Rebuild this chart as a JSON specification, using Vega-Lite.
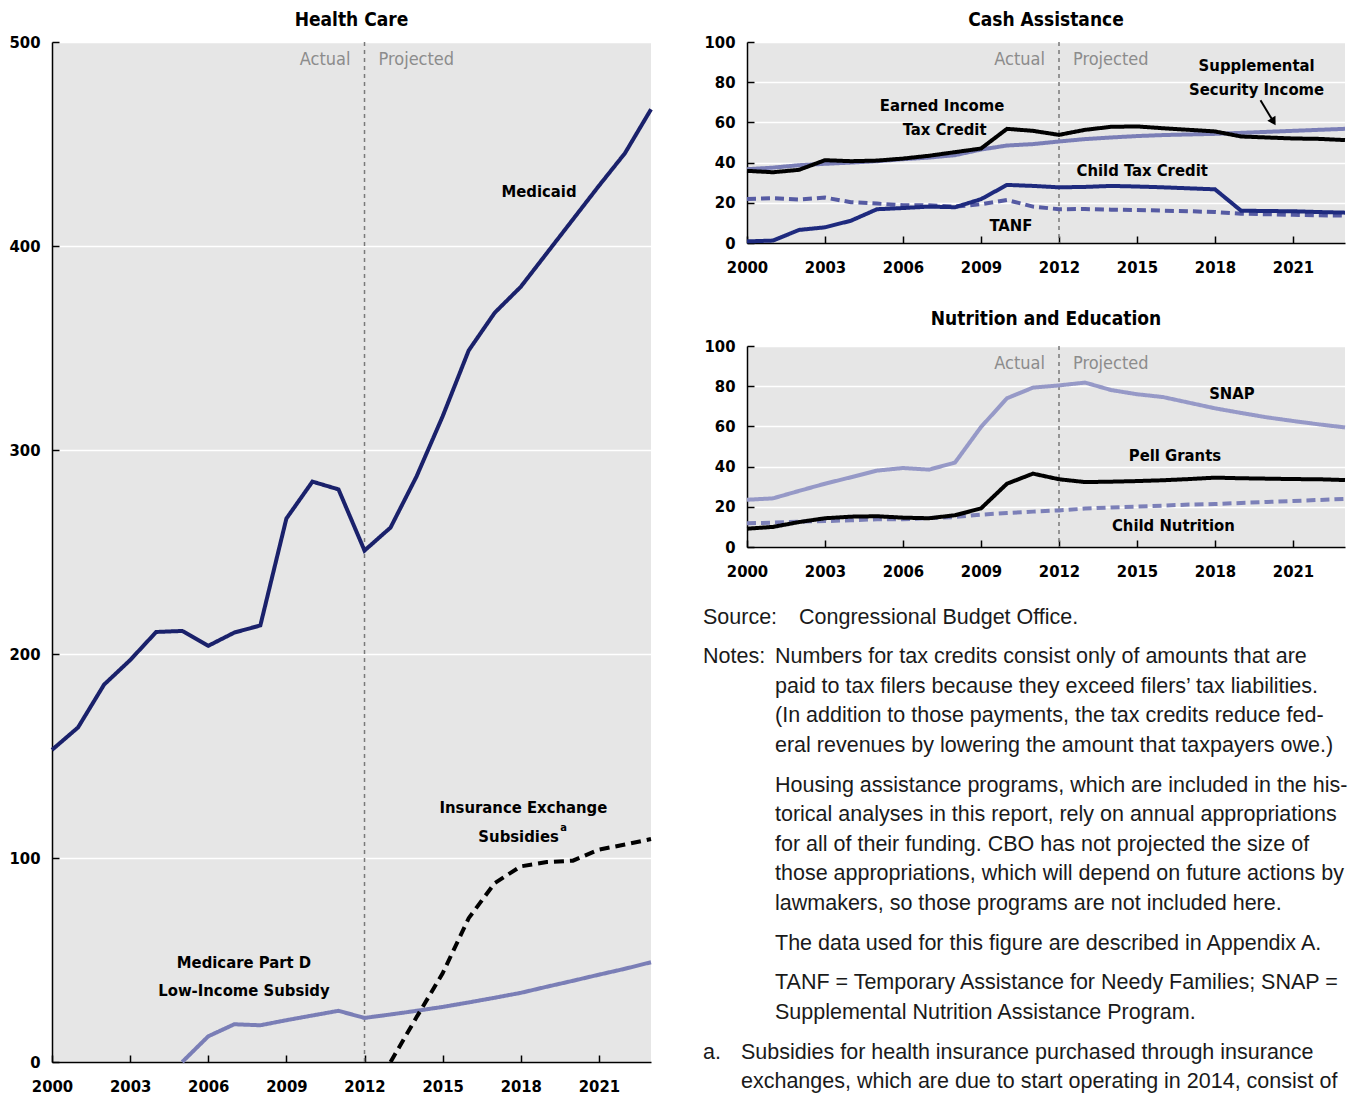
{
  "$schema": "https://vega.github.io/schema/vega-lite/v6.json",
  "background": "white",
  "padding": {"left": 9, "top": 11, "right": 0, "bottom": 0},
  "spacing": 44,
  "resolve": {"scale": {"color": "independent", "strokeDash": "independent"}},
  "config": {
    "view": {"fill": "#e6e6e6", "stroke": null},
    "font": "DejaVu Sans Condensed, Roboto, sans-serif",
    "axis": {
      "labelFont": "DejaVu Sans Condensed, Roboto, sans-serif", "labelFontWeight": "bold", "labelFontSize": 16.5, "labelColor": "#000000",
      "domainColor": "#000000", "domainWidth": 1.5, "tickColor": "#000000", "tickWidth": 1.5, "tickSize": -7,
      "title": null, "gridColor": "#ffffff", "gridWidth": 1.5, "labelFlush": false
    },
    "axisX": {"labelPadding": 23},
    "axisY": {"labelPadding": 19},
    "title": {"font": "DejaVu Sans Condensed, Roboto, sans-serif", "fontWeight": "bold", "fontSize": 19, "color": "#000000", "offset": 4},
    "text": {"font": "DejaVu Sans Condensed, Roboto, sans-serif", "fontWeight": "bold", "fontSize": 16.5, "color": "#000000", "baseline": "middle"}
  },
  "datasets": {
    "health": [
      {"year": 2000, "series": "Medicaid", "value": 153}, {"year": 2001, "series": "Medicaid", "value": 164}, {"year": 2002, "series": "Medicaid", "value": 185}, {"year": 2003, "series": "Medicaid", "value": 197}, {"year": 2004, "series": "Medicaid", "value": 210.8}, {"year": 2005, "series": "Medicaid", "value": 211.3}, {"year": 2006, "series": "Medicaid", "value": 204}, {"year": 2007, "series": "Medicaid", "value": 210.5}, {"year": 2008, "series": "Medicaid", "value": 214}, {"year": 2009, "series": "Medicaid", "value": 266.4}, {"year": 2010, "series": "Medicaid", "value": 284.5}, {"year": 2011, "series": "Medicaid", "value": 280.7}, {"year": 2012, "series": "Medicaid", "value": 250.7}, {"year": 2013, "series": "Medicaid", "value": 262}, {"year": 2014, "series": "Medicaid", "value": 287.1}, {"year": 2015, "series": "Medicaid", "value": 316.5}, {"year": 2016, "series": "Medicaid", "value": 348.8}, {"year": 2017, "series": "Medicaid", "value": 367.3}, {"year": 2018, "series": "Medicaid", "value": 380}, {"year": 2019, "series": "Medicaid", "value": 396.5}, {"year": 2020, "series": "Medicaid", "value": 413}, {"year": 2021, "series": "Medicaid", "value": 429.5}, {"year": 2022, "series": "Medicaid", "value": 445.5}, {"year": 2023, "series": "Medicaid", "value": 467},
      {"year": 2005, "series": "Medicare Part D", "value": 0}, {"year": 2006, "series": "Medicare Part D", "value": 12.6}, {"year": 2007, "series": "Medicare Part D", "value": 18.5}, {"year": 2008, "series": "Medicare Part D", "value": 18}, {"year": 2009, "series": "Medicare Part D", "value": 20.5}, {"year": 2010, "series": "Medicare Part D", "value": 22.8}, {"year": 2011, "series": "Medicare Part D", "value": 25.1}, {"year": 2012, "series": "Medicare Part D", "value": 21.6}, {"year": 2013, "series": "Medicare Part D", "value": 23.3}, {"year": 2014, "series": "Medicare Part D", "value": 25.1}, {"year": 2015, "series": "Medicare Part D", "value": 27}, {"year": 2016, "series": "Medicare Part D", "value": 29.2}, {"year": 2017, "series": "Medicare Part D", "value": 31.5}, {"year": 2018, "series": "Medicare Part D", "value": 33.9}, {"year": 2019, "series": "Medicare Part D", "value": 36.9}, {"year": 2020, "series": "Medicare Part D", "value": 39.8}, {"year": 2021, "series": "Medicare Part D", "value": 42.8}, {"year": 2022, "series": "Medicare Part D", "value": 45.7}, {"year": 2023, "series": "Medicare Part D", "value": 48.9},
      {"year": 2013, "series": "Insurance Exchange", "value": 0}, {"year": 2014, "series": "Insurance Exchange", "value": 22}, {"year": 2015, "series": "Insurance Exchange", "value": 43.5}, {"year": 2016, "series": "Insurance Exchange", "value": 70.5}, {"year": 2017, "series": "Insurance Exchange", "value": 87.7}, {"year": 2018, "series": "Insurance Exchange", "value": 95.9}, {"year": 2019, "series": "Insurance Exchange", "value": 98}, {"year": 2020, "series": "Insurance Exchange", "value": 98.7}, {"year": 2021, "series": "Insurance Exchange", "value": 104.1}, {"year": 2022, "series": "Insurance Exchange", "value": 106.6}, {"year": 2023, "series": "Insurance Exchange", "value": 109.3}
    ],
    "cash": [
      {"year": 2000, "series": "SSI", "value": 36.7}, {"year": 2001, "series": "SSI", "value": 37.5}, {"year": 2002, "series": "SSI", "value": 38.7}, {"year": 2003, "series": "SSI", "value": 39.4}, {"year": 2004, "series": "SSI", "value": 40}, {"year": 2005, "series": "SSI", "value": 40.7}, {"year": 2006, "series": "SSI", "value": 41.7}, {"year": 2007, "series": "SSI", "value": 42.5}, {"year": 2008, "series": "SSI", "value": 43.7}, {"year": 2009, "series": "SSI", "value": 46.5}, {"year": 2010, "series": "SSI", "value": 48.5}, {"year": 2011, "series": "SSI", "value": 49.2}, {"year": 2012, "series": "SSI", "value": 50.5}, {"year": 2013, "series": "SSI", "value": 51.7}, {"year": 2014, "series": "SSI", "value": 52.5}, {"year": 2015, "series": "SSI", "value": 53.2}, {"year": 2016, "series": "SSI", "value": 53.7}, {"year": 2017, "series": "SSI", "value": 54}, {"year": 2018, "series": "SSI", "value": 54.3}, {"year": 2019, "series": "SSI", "value": 54.8}, {"year": 2020, "series": "SSI", "value": 55.3}, {"year": 2021, "series": "SSI", "value": 55.8}, {"year": 2022, "series": "SSI", "value": 56.3}, {"year": 2023, "series": "SSI", "value": 56.8},
      {"year": 2000, "series": "TANF", "value": 21.9}, {"year": 2001, "series": "TANF", "value": 22.3}, {"year": 2002, "series": "TANF", "value": 21.6}, {"year": 2003, "series": "TANF", "value": 22.6}, {"year": 2004, "series": "TANF", "value": 20.3}, {"year": 2005, "series": "TANF", "value": 19.6}, {"year": 2006, "series": "TANF", "value": 18.8}, {"year": 2007, "series": "TANF", "value": 18.8}, {"year": 2008, "series": "TANF", "value": 18.1}, {"year": 2009, "series": "TANF", "value": 19.3}, {"year": 2010, "series": "TANF", "value": 21.4}, {"year": 2011, "series": "TANF", "value": 18.1}, {"year": 2012, "series": "TANF", "value": 16.8}, {"year": 2013, "series": "TANF", "value": 16.9}, {"year": 2014, "series": "TANF", "value": 16.6}, {"year": 2015, "series": "TANF", "value": 16.4}, {"year": 2016, "series": "TANF", "value": 16.1}, {"year": 2017, "series": "TANF", "value": 15.8}, {"year": 2018, "series": "TANF", "value": 15.4}, {"year": 2019, "series": "TANF", "value": 14.6}, {"year": 2020, "series": "TANF", "value": 14.3}, {"year": 2021, "series": "TANF", "value": 14}, {"year": 2022, "series": "TANF", "value": 13.8}, {"year": 2023, "series": "TANF", "value": 13.6},
      {"year": 2000, "series": "EITC", "value": 35.9}, {"year": 2001, "series": "EITC", "value": 35.2}, {"year": 2002, "series": "EITC", "value": 36.4}, {"year": 2003, "series": "EITC", "value": 41.2}, {"year": 2004, "series": "EITC", "value": 40.7}, {"year": 2005, "series": "EITC", "value": 41}, {"year": 2006, "series": "EITC", "value": 42}, {"year": 2007, "series": "EITC", "value": 43.4}, {"year": 2008, "series": "EITC", "value": 45.2}, {"year": 2009, "series": "EITC", "value": 47}, {"year": 2010, "series": "EITC", "value": 56.8}, {"year": 2011, "series": "EITC", "value": 55.8}, {"year": 2012, "series": "EITC", "value": 53.8}, {"year": 2013, "series": "EITC", "value": 56.3}, {"year": 2014, "series": "EITC", "value": 57.8}, {"year": 2015, "series": "EITC", "value": 58}, {"year": 2016, "series": "EITC", "value": 57.1}, {"year": 2017, "series": "EITC", "value": 56.3}, {"year": 2018, "series": "EITC", "value": 55.5}, {"year": 2019, "series": "EITC", "value": 53}, {"year": 2020, "series": "EITC", "value": 52.5}, {"year": 2021, "series": "EITC", "value": 52}, {"year": 2022, "series": "EITC", "value": 51.8}, {"year": 2023, "series": "EITC", "value": 51.2},
      {"year": 2000, "series": "CTC", "value": 0.8}, {"year": 2001, "series": "CTC", "value": 1.2}, {"year": 2002, "series": "CTC", "value": 6.5}, {"year": 2003, "series": "CTC", "value": 7.8}, {"year": 2004, "series": "CTC", "value": 11.1}, {"year": 2005, "series": "CTC", "value": 16.8}, {"year": 2006, "series": "CTC", "value": 17.4}, {"year": 2007, "series": "CTC", "value": 18.1}, {"year": 2008, "series": "CTC", "value": 17.8}, {"year": 2009, "series": "CTC", "value": 21.8}, {"year": 2010, "series": "CTC", "value": 28.9}, {"year": 2011, "series": "CTC", "value": 28.4}, {"year": 2012, "series": "CTC", "value": 27.7}, {"year": 2013, "series": "CTC", "value": 27.9}, {"year": 2014, "series": "CTC", "value": 28.4}, {"year": 2015, "series": "CTC", "value": 28.1}, {"year": 2016, "series": "CTC", "value": 27.7}, {"year": 2017, "series": "CTC", "value": 27.2}, {"year": 2018, "series": "CTC", "value": 26.7}, {"year": 2019, "series": "CTC", "value": 16.1}, {"year": 2020, "series": "CTC", "value": 15.9}, {"year": 2021, "series": "CTC", "value": 15.8}, {"year": 2022, "series": "CTC", "value": 15.4}, {"year": 2023, "series": "CTC", "value": 15.1}
    ],
    "nutr": [
      {"year": 2000, "series": "SNAP", "value": 23.5}, {"year": 2001, "series": "SNAP", "value": 24.2}, {"year": 2002, "series": "SNAP", "value": 27.9}, {"year": 2003, "series": "SNAP", "value": 31.5}, {"year": 2004, "series": "SNAP", "value": 34.7}, {"year": 2005, "series": "SNAP", "value": 38}, {"year": 2006, "series": "SNAP", "value": 39.3}, {"year": 2007, "series": "SNAP", "value": 38.5}, {"year": 2008, "series": "SNAP", "value": 42}, {"year": 2009, "series": "SNAP", "value": 59.7}, {"year": 2010, "series": "SNAP", "value": 74}, {"year": 2011, "series": "SNAP", "value": 79.3}, {"year": 2012, "series": "SNAP", "value": 80.4}, {"year": 2013, "series": "SNAP", "value": 81.8}, {"year": 2014, "series": "SNAP", "value": 78.1}, {"year": 2015, "series": "SNAP", "value": 76}, {"year": 2016, "series": "SNAP", "value": 74.6}, {"year": 2017, "series": "SNAP", "value": 71.8}, {"year": 2018, "series": "SNAP", "value": 69}, {"year": 2019, "series": "SNAP", "value": 66.7}, {"year": 2020, "series": "SNAP", "value": 64.5}, {"year": 2021, "series": "SNAP", "value": 62.7}, {"year": 2022, "series": "SNAP", "value": 61}, {"year": 2023, "series": "SNAP", "value": 59.5},
      {"year": 2000, "series": "Child Nutrition", "value": 11.8}, {"year": 2001, "series": "Child Nutrition", "value": 12.1}, {"year": 2002, "series": "Child Nutrition", "value": 12.6}, {"year": 2003, "series": "Child Nutrition", "value": 12.9}, {"year": 2004, "series": "Child Nutrition", "value": 13.3}, {"year": 2005, "series": "Child Nutrition", "value": 13.8}, {"year": 2006, "series": "Child Nutrition", "value": 13.8}, {"year": 2007, "series": "Child Nutrition", "value": 14.4}, {"year": 2008, "series": "Child Nutrition", "value": 14.9}, {"year": 2009, "series": "Child Nutrition", "value": 16.1}, {"year": 2010, "series": "Child Nutrition", "value": 16.9}, {"year": 2011, "series": "Child Nutrition", "value": 17.6}, {"year": 2012, "series": "Child Nutrition", "value": 18.2}, {"year": 2013, "series": "Child Nutrition", "value": 19.1}, {"year": 2014, "series": "Child Nutrition", "value": 19.7}, {"year": 2015, "series": "Child Nutrition", "value": 20.1}, {"year": 2016, "series": "Child Nutrition", "value": 20.6}, {"year": 2017, "series": "Child Nutrition", "value": 21.1}, {"year": 2018, "series": "Child Nutrition", "value": 21.4}, {"year": 2019, "series": "Child Nutrition", "value": 21.9}, {"year": 2020, "series": "Child Nutrition", "value": 22.4}, {"year": 2021, "series": "Child Nutrition", "value": 22.9}, {"year": 2022, "series": "Child Nutrition", "value": 23.4}, {"year": 2023, "series": "Child Nutrition", "value": 23.9},
      {"year": 2000, "series": "Pell Grants", "value": 9.1}, {"year": 2001, "series": "Pell Grants", "value": 10}, {"year": 2002, "series": "Pell Grants", "value": 12.4}, {"year": 2003, "series": "Pell Grants", "value": 14.3}, {"year": 2004, "series": "Pell Grants", "value": 15.1}, {"year": 2005, "series": "Pell Grants", "value": 15.3}, {"year": 2006, "series": "Pell Grants", "value": 14.6}, {"year": 2007, "series": "Pell Grants", "value": 14.3}, {"year": 2008, "series": "Pell Grants", "value": 15.8}, {"year": 2009, "series": "Pell Grants", "value": 19.2}, {"year": 2010, "series": "Pell Grants", "value": 31.5}, {"year": 2011, "series": "Pell Grants", "value": 36.5}, {"year": 2012, "series": "Pell Grants", "value": 33.7}, {"year": 2013, "series": "Pell Grants", "value": 32.3}, {"year": 2014, "series": "Pell Grants", "value": 32.5}, {"year": 2015, "series": "Pell Grants", "value": 32.8}, {"year": 2016, "series": "Pell Grants", "value": 33.2}, {"year": 2017, "series": "Pell Grants", "value": 33.8}, {"year": 2018, "series": "Pell Grants", "value": 34.5}, {"year": 2019, "series": "Pell Grants", "value": 34.2}, {"year": 2020, "series": "Pell Grants", "value": 34}, {"year": 2021, "series": "Pell Grants", "value": 33.8}, {"year": 2022, "series": "Pell Grants", "value": 33.7}, {"year": 2023, "series": "Pell Grants", "value": 33.3}
    ],
    "healthLabels": [
      {"text": "Medicaid", "year": 2018.7, "value": 426.5},
      {"text": "Insurance Exchange", "year": 2018.1, "value": 124.3},
      {"text": "Medicare Part D", "year": 2007.37, "value": 48.5},
      {"text": "Low-Income Subsidy", "year": 2007.37, "value": 34.8}
    ],
    "cashLabels": [
      {"text": "Supplemental", "year": 2019.6, "value": 88},
      {"text": "Security Income", "year": 2019.6, "value": 76},
      {"text": "Earned Income", "year": 2007.5, "value": 68},
      {"text": "Tax Credit", "year": 2007.6, "value": 56},
      {"text": "Child Tax Credit", "year": 2015.2, "value": 35.8},
      {"text": "TANF", "year": 2010.15, "value": 8.5}
    ],
    "nutrLabels": [
      {"text": "SNAP", "year": 2018.65, "value": 76},
      {"text": "Pell Grants", "year": 2016.46, "value": 45.3},
      {"text": "Child Nutrition", "year": 2016.4, "value": 10.4}
    ],
    "notes": [
      {"line": 0, "col": "label", "text": "Source:"},
      {"line": 0, "col": "source", "text": "Congressional Budget Office."},
      {"line": 1.35, "col": "label", "text": "Notes:"},
      {"line": 1.35, "col": "body", "text": "Numbers for tax credits consist only of amounts that are"},
      {"line": 2.35, "col": "body", "text": "paid to tax filers because they exceed filers’ tax liabilities."},
      {"line": 3.35, "col": "body", "text": "(In addition to those payments, the tax credits reduce fed-"},
      {"line": 4.35, "col": "body", "text": "eral revenues by lowering the amount that taxpayers owe.)"},
      {"line": 5.7, "col": "body", "text": "Housing assistance programs, which are included in the his-"},
      {"line": 6.7, "col": "body", "text": "torical analyses in this report, rely on annual appropriations"},
      {"line": 7.7, "col": "body", "text": "for all of their funding. CBO has not projected the size of"},
      {"line": 8.7, "col": "body", "text": "those appropriations, which will depend on future actions by"},
      {"line": 9.7, "col": "body", "text": "lawmakers, so those programs are not included here."},
      {"line": 11.05, "col": "body", "text": "The data used for this figure are described in Appendix A."},
      {"line": 12.4, "col": "body", "text": "TANF = Temporary Assistance for Needy Families; SNAP ="},
      {"line": 13.4, "col": "body", "text": "Supplemental Nutrition Assistance Program."},
      {"line": 14.75, "col": "label", "text": "a."},
      {"line": 14.75, "col": "foot", "text": "Subsidies for health insurance purchased through insurance"},
      {"line": 15.75, "col": "foot", "text": "exchanges, which are due to start operating in 2014, consist of"}
    ]
  },
  "hconcat": [
    {
      "width": 599, "height": 1020,
      "title": "Health Care",
      "layer": [
        {
          "data": {"values": [{}]},
          "mark": {"type": "rule", "color": "#7a7a7a", "strokeWidth": 1.5, "strokeDash": [4, 4]},
          "encoding": {"x": {"datum": 2012, "type": "quantitative"}}
        },
        {
          "data": {"name": "health"},
          "mark": {"type": "line", "strokeWidth": 4, "strokeCap": "butt"},
          "encoding": {
            "x": {"field": "year", "type": "quantitative", "scale": {"domain": [2000, 2023], "nice": false, "zero": false}, "axis": {"values": [2000, 2003, 2006, 2009, 2012, 2015, 2018, 2021], "format": "d", "grid": false}},
            "y": {"field": "value", "type": "quantitative", "scale": {"domain": [0, 500], "nice": false}, "axis": {"values": [0, 100, 200, 300, 400, 500]}},
            "color": {"field": "series", "type": "nominal", "scale": {"domain": ["Medicaid", "Medicare Part D", "Insurance Exchange"], "range": ["#1a216b", "#7a7eb6", "#000000"]}, "legend": null},
            "strokeDash": {"field": "series", "type": "nominal", "scale": {"domain": ["Medicaid", "Medicare Part D", "Insurance Exchange"], "range": [[1, 0], [1, 0], [10, 6]]}, "legend": null}
          }
        },
        {
          "data": {"name": "healthLabels"},
          "mark": {"type": "text"},
          "encoding": {"x": {"field": "year", "type": "quantitative"}, "y": {"field": "value", "type": "quantitative"}, "text": {"field": "text"}}
        },
        {
          "data": {"values": [{}]},
          "mark": {"type": "text", "text": "Subsidies", "align": "right"},
          "encoding": {"x": {"datum": 2019.46, "type": "quantitative"}, "y": {"datum": 110.3, "type": "quantitative"}}
        },
        {
          "data": {"values": [{}]},
          "mark": {"type": "text", "text": "a", "align": "left", "fontSize": 11},
          "encoding": {"x": {"datum": 2019.52, "type": "quantitative"}, "y": {"datum": 114.5, "type": "quantitative"}}
        },
        {
          "data": {"values": [{}]},
          "mark": {"type": "text", "text": "Actual", "align": "right", "dx": -14, "fontWeight": "normal", "fontSize": 18, "color": "#8c8c8c"},
          "encoding": {"x": {"datum": 2012, "type": "quantitative"}, "y": {"datum": 491, "type": "quantitative"}}
        },
        {
          "data": {"values": [{}]},
          "mark": {"type": "text", "text": "Projected", "align": "left", "dx": 14, "fontWeight": "normal", "fontSize": 18, "color": "#8c8c8c"},
          "encoding": {"x": {"datum": 2012, "type": "quantitative"}, "y": {"datum": 491, "type": "quantitative"}}
        }
      ]
    },
    {
      "spacing": 26,
      "resolve": {"scale": {"color": "independent", "strokeDash": "independent"}},
      "vconcat": [
        {
          "spacing": 34,
          "resolve": {"scale": {"color": "independent", "strokeDash": "independent"}},
          "vconcat": [
            {
              "width": 598, "height": 201,
              "title": "Cash Assistance",
              "layer": [
                {
                  "data": {"values": [{}]},
                  "mark": {"type": "rule", "color": "#7a7a7a", "strokeWidth": 1.5, "strokeDash": [4, 4]},
                  "encoding": {"x": {"datum": 2012, "type": "quantitative"}}
                },
                {
                  "data": {"name": "cash"},
                  "mark": {"type": "line", "strokeWidth": 4, "strokeCap": "butt"},
                  "encoding": {
                    "x": {"field": "year", "type": "quantitative", "scale": {"domain": [2000, 2023], "nice": false, "zero": false}, "axis": {"values": [2000, 2003, 2006, 2009, 2012, 2015, 2018, 2021], "format": "d", "grid": false}},
                    "y": {"field": "value", "type": "quantitative", "scale": {"domain": [0, 100], "nice": false}, "axis": {"values": [0, 20, 40, 60, 80, 100]}},
                    "color": {"field": "series", "type": "nominal", "scale": {"domain": ["SSI", "TANF", "EITC", "CTC"], "range": ["#7a7eb6", "#565ba3", "#000000", "#1e2a7e"]}, "legend": null},
                    "strokeDash": {"field": "series", "type": "nominal", "scale": {"domain": ["SSI", "TANF", "EITC", "CTC"], "range": [[1, 0], [9, 5], [1, 0], [1, 0]]}, "legend": null}
                  }
                },
                {
                  "data": {"name": "cashLabels"},
                  "mark": {"type": "text"},
                  "encoding": {"x": {"field": "year", "type": "quantitative"}, "y": {"field": "value", "type": "quantitative"}, "text": {"field": "text"}}
                },
                {
                  "data": {"values": [{"x": 2019.75, "y": 71, "x2": 2020.25, "y2": 60.3}]},
                  "mark": {"type": "rule", "color": "#000000", "strokeWidth": 2},
                  "encoding": {"x": {"field": "x", "type": "quantitative"}, "y": {"field": "y", "type": "quantitative"}, "x2": {"field": "x2"}, "y2": {"field": "y2"}}
                },
                {
                  "data": {"values": [{"x": 2020.25, "y": 60.3}]},
                  "mark": {"type": "point", "shape": "triangle-down", "filled": true, "color": "#000000", "size": 90, "angle": -31, "opacity": 1},
                  "encoding": {"x": {"field": "x", "type": "quantitative"}, "y": {"field": "y", "type": "quantitative"}}
                },
                {
                  "data": {"values": [{}]},
                  "mark": {"type": "text", "text": "Actual", "align": "right", "dx": -14, "fontWeight": "normal", "fontSize": 18, "color": "#8c8c8c"},
                  "encoding": {"x": {"datum": 2012, "type": "quantitative"}, "y": {"datum": 91, "type": "quantitative"}}
                },
                {
                  "data": {"values": [{}]},
                  "mark": {"type": "text", "text": "Projected", "align": "left", "dx": 14, "fontWeight": "normal", "fontSize": 18, "color": "#8c8c8c"},
                  "encoding": {"x": {"datum": 2012, "type": "quantitative"}, "y": {"datum": 91, "type": "quantitative"}}
                }
              ]
            },
            {
              "width": 598, "height": 201,
              "title": {"text": "Nutrition and Education", "offset": 9},
              "layer": [
                {
                  "data": {"values": [{}]},
                  "mark": {"type": "rule", "color": "#7a7a7a", "strokeWidth": 1.5, "strokeDash": [4, 4]},
                  "encoding": {"x": {"datum": 2012, "type": "quantitative"}}
                },
                {
                  "data": {"name": "nutr"},
                  "mark": {"type": "line", "strokeWidth": 4, "strokeCap": "butt"},
                  "encoding": {
                    "x": {"field": "year", "type": "quantitative", "scale": {"domain": [2000, 2023], "nice": false, "zero": false}, "axis": {"values": [2000, 2003, 2006, 2009, 2012, 2015, 2018, 2021], "format": "d", "grid": false}},
                    "y": {"field": "value", "type": "quantitative", "scale": {"domain": [0, 100], "nice": false}, "axis": {"values": [0, 20, 40, 60, 80, 100]}},
                    "color": {"field": "series", "type": "nominal", "scale": {"domain": ["SNAP", "Child Nutrition", "Pell Grants"], "range": ["#9699c7", "#7c80b8", "#000000"]}, "legend": null},
                    "strokeDash": {"field": "series", "type": "nominal", "scale": {"domain": ["SNAP", "Child Nutrition", "Pell Grants"], "range": [[1, 0], [9, 5], [1, 0]]}, "legend": null}
                  }
                },
                {
                  "data": {"name": "nutrLabels"},
                  "mark": {"type": "text"},
                  "encoding": {"x": {"field": "year", "type": "quantitative"}, "y": {"field": "value", "type": "quantitative"}, "text": {"field": "text"}}
                },
                {
                  "data": {"values": [{}]},
                  "mark": {"type": "text", "text": "Actual", "align": "right", "dx": -14, "fontWeight": "normal", "fontSize": 18, "color": "#8c8c8c"},
                  "encoding": {"x": {"datum": 2012, "type": "quantitative"}, "y": {"datum": 91, "type": "quantitative"}}
                },
                {
                  "data": {"values": [{}]},
                  "mark": {"type": "text", "text": "Projected", "align": "left", "dx": 14, "fontWeight": "normal", "fontSize": 18, "color": "#8c8c8c"},
                  "encoding": {"x": {"datum": 2012, "type": "quantitative"}, "y": {"datum": 91, "type": "quantitative"}}
                }
              ]
            }
          ]
        },
        {
          "width": 598, "height": 457,
          "view": {"fill": "transparent", "stroke": null},
          "data": {"name": "notes"},
          "encoding": {
            "x": {"datum": 0, "type": "quantitative", "scale": {"domain": [0, 1]}, "axis": null},
            "y": {"field": "line", "type": "quantitative", "scale": {"domain": [0.49, 15.98], "reverse": true, "nice": false, "zero": false}, "axis": null},
            "text": {"field": "text"}
          },
          "layer": [
            {"transform": [{"filter": "datum.col === 'label'"}], "mark": {"type": "text", "align": "left", "dx": -44, "font": "Liberation Sans", "fontWeight": "normal", "fontSize": 21.5, "color": "#1a1a1a"}},
            {"transform": [{"filter": "datum.col === 'source'"}], "mark": {"type": "text", "align": "left", "dx": 52, "font": "Liberation Sans", "fontWeight": "normal", "fontSize": 21.5, "color": "#1a1a1a"}},
            {"transform": [{"filter": "datum.col === 'body'"}], "mark": {"type": "text", "align": "left", "dx": 28, "font": "Liberation Sans", "fontWeight": "normal", "fontSize": 21.5, "color": "#1a1a1a"}},
            {"transform": [{"filter": "datum.col === 'foot'"}], "mark": {"type": "text", "align": "left", "dx": -6, "font": "Liberation Sans", "fontWeight": "normal", "fontSize": 21.5, "color": "#1a1a1a"}}
          ]
        }
      ]
    }
  ]
}
